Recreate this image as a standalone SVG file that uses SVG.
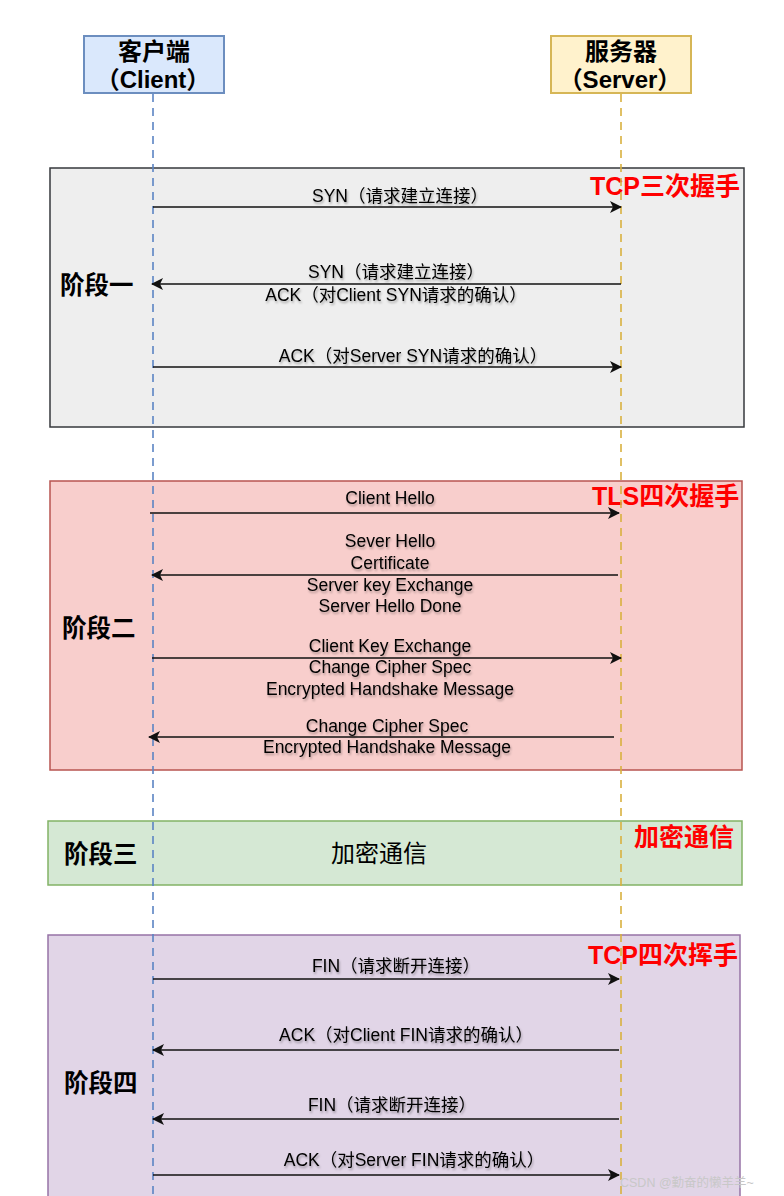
<svg xmlns="http://www.w3.org/2000/svg" width="784" height="1196" viewBox="0 0 784 1196">
<style>
.hdr{font-family:"Liberation Sans","Noto Sans CJK SC",sans-serif;font-size:24px;font-weight:bold;fill:#000;text-anchor:middle}
.stage{font-family:"Liberation Sans","Noto Sans CJK SC",sans-serif;font-size:24.5px;font-weight:bold;fill:#000}
.red{font-family:"Liberation Sans","Noto Sans CJK SC",sans-serif;font-size:25px;font-weight:bold;fill:#ff0000}
.lbl{font-family:"Liberation Sans","Noto Sans CJK SC",sans-serif;font-size:17.5px;fill:#000;text-anchor:middle;filter:url(#sh)}
.msg{stroke:#111;stroke-width:1.3;fill:none;marker-end:url(#arr)}
.life{stroke-width:1.6;stroke-dasharray:8 6;fill:none}
</style>
<defs>
<filter id="sh" x="-10%" y="-30%" width="120%" height="170%">
<feDropShadow dx="1" dy="2" stdDeviation="1.3" flood-color="#000" flood-opacity="0.3"/>
</filter>
<marker id="arr" viewBox="0 0 12 12" refX="11" refY="6" markerWidth="12" markerHeight="12" markerUnits="userSpaceOnUse" orient="auto">
<path d="M0,0 L12,6 L0,12 L3,6 z" fill="#111"/>
</marker>
</defs>
<rect width="784" height="1196" fill="#fff"/>

<g id="stage1">
<rect x="50" y="168" width="694" height="259" fill="#eeeeee" stroke="#36393d" stroke-width="1.5"/>
<text class="stage" x="60" y="294">阶段一</text>
<text class="red" x="590" y="195">TCP三次握手</text>
</g>
<g id="stage2">
<rect x="50" y="481" width="692" height="289" fill="#f8cecc" stroke="#b85450" stroke-width="1.5"/>
<text class="stage" x="62" y="637">阶段二</text>
<text class="red" x="592" y="505">TLS四次握手</text>
</g>
<g id="stage3">
<rect x="48" y="821" width="694" height="64" fill="#d5e8d4" stroke="#82b366" stroke-width="1.5"/>
<text class="stage" x="64" y="863">阶段三</text>
<text x="379" y="862" font-family="'Liberation Sans','Noto Sans CJK SC',sans-serif" font-size="24px" text-anchor="middle" fill="#000">加密通信</text>
<text class="red" x="634" y="846" font-size="26px">加密通信</text>
</g>
<g id="stage4">
<rect x="48" y="935" width="692" height="270" fill="#e1d5e7" stroke="#9673a6" stroke-width="1.5"/>
<text class="stage" x="64" y="1092">阶段四</text>
<text class="red" x="588" y="964">TCP四次挥手</text>
</g>

<g id="client">
<rect x="84" y="36" width="140" height="57" fill="#dae8fc" stroke="#6c8ebf" stroke-width="2"/>
<text class="hdr" x="154" y="60">客户端</text>
<text class="hdr" x="153" y="88" font-size="23px">（Client）</text>
</g>
<g id="server">
<rect x="551" y="36" width="140" height="57" fill="#fff2cc" stroke="#d6b656" stroke-width="2"/>
<text class="hdr" x="621" y="60">服务器</text>
<text class="hdr" x="620" y="88" font-size="23px">（Server）</text>
</g>

<g id="connectors">
<line class="life" x1="153" y1="94" x2="153" y2="1196" stroke="#5b84c4"/>
<line class="life" x1="621" y1="94" x2="621" y2="1196" stroke="#d9b13f"/>

<line class="msg" x1="153" y1="207" x2="621" y2="207"/>
<line class="msg" x1="621" y1="284" x2="152" y2="284"/>
<line class="msg" x1="153" y1="367" x2="621" y2="367"/>

<line class="msg" x1="150" y1="513" x2="619" y2="513"/>
<line class="msg" x1="618" y1="575" x2="152" y2="575"/>
<line class="msg" x1="152" y1="658" x2="621" y2="658"/>
<line class="msg" x1="614" y1="737" x2="149" y2="737"/>

<line class="msg" x1="153" y1="979" x2="619" y2="979"/>
<line class="msg" x1="619" y1="1050" x2="153" y2="1050"/>
<line class="msg" x1="619" y1="1119" x2="153" y2="1119"/>
<line class="msg" x1="153" y1="1175" x2="619" y2="1175"/>
</g>

<g id="labels">
<text class="lbl" x="400" y="202">SYN（请求建立连接）</text>
<text class="lbl" x="396" y="278">SYN（请求建立连接）</text>
<text class="lbl" x="396" y="301">ACK（对Client SYN请求的确认）</text>
<text class="lbl" x="413" y="362">ACK（对Server SYN请求的确认）</text>

<text class="lbl" x="390" y="504">Client Hello</text>
<text class="lbl" x="390" y="547">Sever Hello</text>
<text class="lbl" x="390" y="569">Certificate</text>
<text class="lbl" x="390" y="591">Server key Exchange</text>
<text class="lbl" x="390" y="612">Server Hello Done</text>
<text class="lbl" x="390" y="652">Client Key Exchange</text>
<text class="lbl" x="390" y="673">Change Cipher Spec</text>
<text class="lbl" x="390" y="695">Encrypted Handshake Message</text>
<text class="lbl" x="387" y="732">Change Cipher Spec</text>
<text class="lbl" x="387" y="753">Encrypted Handshake Message</text>

<text class="lbl" x="396" y="972">FIN（请求断开连接）</text>
<text class="lbl" x="406" y="1041">ACK（对Client FIN请求的确认）</text>
<text class="lbl" x="392" y="1111">FIN（请求断开连接）</text>
<text class="lbl" x="414" y="1166">ACK（对Server FIN请求的确认）</text>
</g>

<text x="620" y="1187" font-family="'Liberation Sans','Noto Sans CJK SC',sans-serif" font-size="12.5px" fill="#c8c8c8">CSDN @勤奋的懒羊羊~</text>
</svg>
